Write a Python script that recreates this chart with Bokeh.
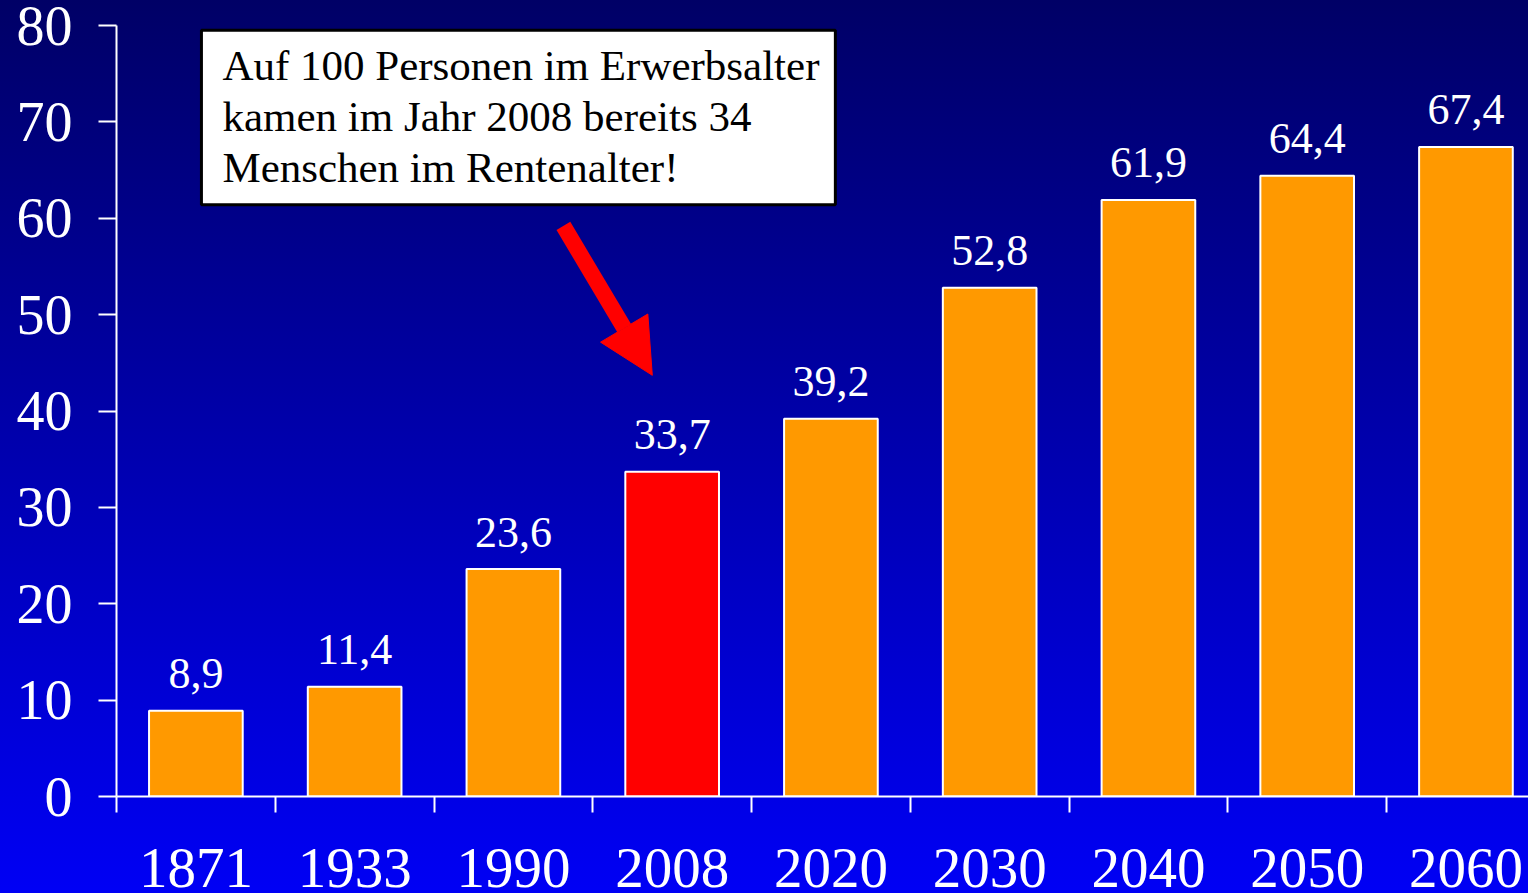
from bokeh.plotting import figure
from bokeh.models import (Range1d, FixedTicker, ColumnDataSource, Label, BoxAnnotation,
                          Arrow, NormalHead)
from bokeh.embed import file_html
from bokeh.resources import INLINE

# ---- data ----
years = ["1871", "1933", "1990", "2008", "2020", "2030", "2040", "2050", "2060"]
values = [8.9, 11.4, 23.6, 33.7, 39.2, 52.8, 61.9, 64.4, 67.4]
highlight_year = "2008"
y_ticks = [0, 10, 20, 30, 40, 50, 60, 70, 80]
note_text = "Auf 100 Personen im Erwerbsalter\nkamen im Jahr 2008 bereits 34\nMenschen im Rentenalter!"

ORANGE = "#ff9900"
RED = "#ff0000"
FONT = "Liberation Serif"

centers = [i + 0.5 for i in range(len(years))]
bounds = [float(i) for i in range(len(years))]
colors = [RED if y == highlight_year else ORANGE for y in years]
labels = [f"{v:.1f}".replace(".", ",") for v in values]

src = ColumnDataSource(dict(x=centers, top=values, color=colors, label=labels, year=years))

p = figure(width=1528, height=893, output_backend="svg", toolbar_location=None,
           x_range=Range1d(0, 8.894), y_range=Range1d(0, 80),
           min_border_left=116, min_border_right=0, min_border_top=25, min_border_bottom=97)
p.border_fill_color = None
p.background_fill_color = None
p.outline_line_color = None
p.grid.visible = False

p.vbar(x="x", top="top", width=0.59, bottom=0, fill_color="color", line_color="white",
       line_width=2, source=src)

p.text(x="x", y="top", text="label", source=src, text_font={"value": FONT},
       text_font_size="44px", text_color="white", text_align="center",
       text_baseline="alphabetic", y_offset=-37)

# y axis
ya = p.yaxis[0]
ya.ticker = FixedTicker(ticks=y_ticks)
ya.axis_line_color = "white"
ya.axis_line_width = 2
ya.major_tick_line_color = "white"
ya.major_tick_line_width = 2
ya.major_tick_out = 18
ya.major_tick_in = 0
ya.minor_tick_out = 0
ya.minor_tick_in = 0
ya.major_label_standoff = 26
ya.major_label_text_color = "white"
ya.major_label_text_font = FONT
ya.major_label_text_font_size = "56px"

# x axis
xa = p.xaxis[0]
xa.ticker = FixedTicker(ticks=centers, minor_ticks=bounds)
xa.major_label_overrides = {c: y for c, y in zip(centers, years)}
xa.axis_line_color = "white"
xa.axis_line_width = 2
xa.major_tick_out = 0
xa.major_tick_in = 0
xa.minor_tick_line_color = "white"
xa.minor_tick_line_width = 2
xa.minor_tick_out = 16
xa.minor_tick_in = 0
xa.major_label_standoff = 36
xa.major_label_text_color = "white"
xa.major_label_text_font = FONT
xa.major_label_text_font_size = "57px"

# annotation box + text
box = BoxAnnotation(left=0.535, right=4.528, top=79.5, bottom=61.4,
                    fill_color="white", fill_alpha=1.0, line_color="black", line_width=3,
                    line_alpha=1.0)
p.add_layout(box)
note = Label(x=0.667, y=78.3, text=note_text, text_font=FONT, text_font_size="43px",
             text_color="black", text_baseline="top", text_align="left",
             text_line_height=1.09)
p.add_layout(note)

arrow = Arrow(end=NormalHead(size=55, fill_color=RED, line_color=RED, line_width=1),
              x_start=2.815, y_start=59.2, x_end=3.375, y_end=43.7,
              line_color=RED, line_width=16)
p.add_layout(arrow)

html = file_html(p, INLINE)
style = ("<style>html{min-height:100%;background:linear-gradient(#000066,#0000f5) fixed;}"
         "body{background:transparent;margin:0;}</style>")
html = html.replace("</head>", style + "</head>", 1)
open("out.html", "w").write(html)
